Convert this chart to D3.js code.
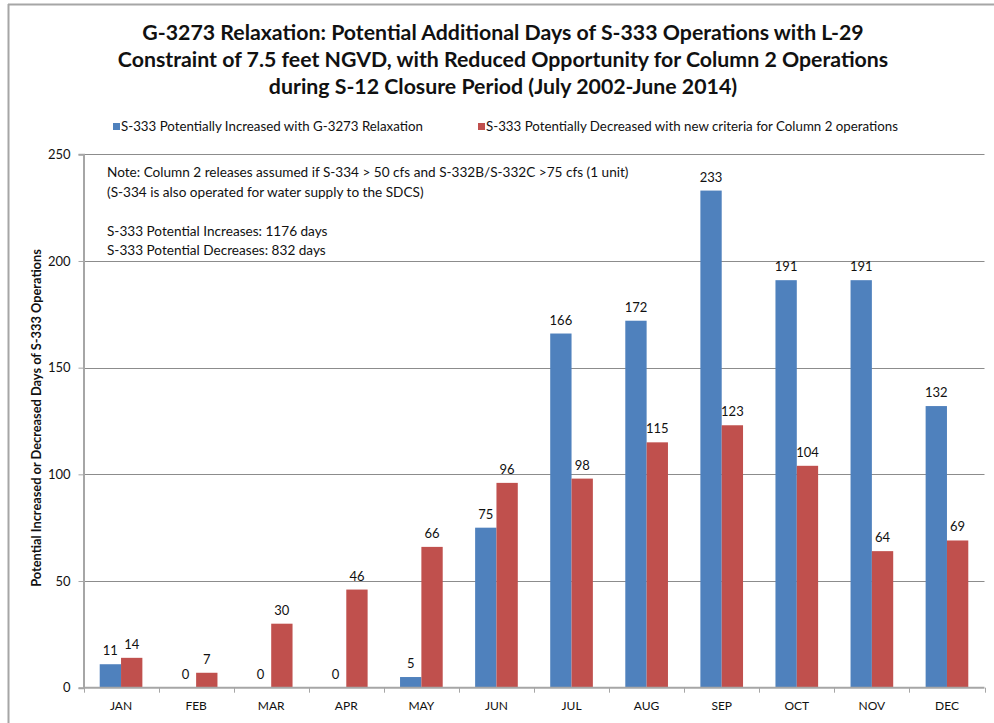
<!DOCTYPE html>
<html>
<head>
<meta charset="utf-8">
<script src="https://cdn.jsdelivr.net/npm/d3@7"></script>
<style>
  body { margin: 0; background: #fff; }
  svg text { font-family: Lato, "Open Sans", sans-serif; fill: #111; }
</style>
</head>
<body>
<div id="chart"></div>
<script>
// данные
const months = ["JAN", "FEB", "MAR", "APR", "MAY", "JUN", "JUL", "AUG", "SEP", "OCT", "NOV", "DEC"];
const increased = [11, 0, 0, 0, 5, 75, 166, 172, 233, 191, 191, 132];
const decreased = [14, 7, 30, 46, 66, 96, 98, 115, 123, 104, 64, 69];
const seriesNames = [
  "S-333 Potentially Increased with G-3273 Relaxation",
  "S-333 Potentially Decreased with new criteria for Column 2 operations"
];
const yTicks = [0, 50, 100, 150, 200, 250];
const titleLines = [
  "G-3273 Relaxation: Potential Additional Days of S-333 Operations with L-29",
  "Constraint of 7.5 feet NGVD, with Reduced Opportunity for Column 2 Operations",
  "during S-12 Closure Period (July 2002-June 2014)"
];
const noteLines = [
  "Note: Column 2 releases assumed if S-334 > 50 cfs and S-332B/S-332C >75 cfs (1 unit)",
  "(S-334 is also operated for water supply to the SDCS)",
  "",
  "S-333 Potential Increases: 1176 days",
  "S-333 Potential Decreases: 832 days"
];
const yTitle = "Potential Increased or Decreased Days of S-333 Operations";

const colors = ["#4F81BD", "#C0504D"];

const W = 994, H = 723;
const plot = { left: 83.5, right: 984.5, top: 154.3, bottom: 687.7 };

const svg = d3.select("#chart").append("svg")
  .attr("width", W)
  .attr("height", H);

// рамка диаграммы
svg.append("line").attr("x1", 8).attr("x2", W).attr("y1", 4.5).attr("y2", 4.5)
  .attr("stroke", "#a6a6a6").attr("stroke-width", 2);
svg.append("line").attr("x1", 8.5).attr("x2", 8.5).attr("y1", 4).attr("y2", H)
  .attr("stroke", "#a6a6a6").attr("stroke-width", 2);

// шкалы
const x0 = d3.scaleBand().domain(months).range([plot.left, plot.right]).padding(0);
const x1 = d3.scaleBand().domain([0, 1]).range([0, x0.bandwidth()])
  .paddingInner(0).paddingOuter(0.76);
const y = d3.scaleLinear().domain([0, 250]).range([plot.bottom, plot.top]);

// сетка
svg.append("g").selectAll("line").data(yTicks.filter(d => d > 0)).join("line")
  .attr("x1", plot.left).attr("x2", plot.right)
  .attr("y1", d => Math.round(y(d)) + 0.5).attr("y2", d => Math.round(y(d)) + 0.5)
  .attr("stroke", "#8c8c8c").attr("stroke-width", 1);

// ось Y
const yAxis = svg.append("g")
  .attr("transform", `translate(${plot.left},0)`)
  .call(d3.axisLeft(y).tickValues(yTicks).tickSize(5).tickPadding(8));
yAxis.select(".domain").attr("stroke", "#a6a6a6").attr("stroke-width", 2);
yAxis.selectAll(".tick line").attr("stroke", "#a6a6a6");
yAxis.selectAll(".tick text").style("font-size", "13px").attr("fill", "#111");

// столбцы
const groups = svg.append("g").selectAll("g").data(months).join("g")
  .attr("transform", d => `translate(${x0(d)},0)`);

const series = [increased, decreased];
groups.selectAll("rect")
  .data((m, i) => series.map((s, k) => ({ k, v: s[i] })))
  .join("rect")
  .attr("x", d => x1(d.k))
  .attr("width", x1.bandwidth())
  .attr("y", d => y(d.v))
  .attr("height", d => y(0) - y(d.v))
  .attr("fill", d => colors[d.k]);

groups.selectAll("text.val")
  .data((m, i) => series.map((s, k) => ({ k, v: s[i] })))
  .join("text")
  .attr("class", "val")
  .attr("x", d => x1(d.k) + x1.bandwidth() / 2)
  .attr("y", d => y(d.v) - 9)
  .attr("text-anchor", "middle")
  .style("font-size", "13px")
  .text(d => d.v);

// ось X
const xAxis = svg.append("g")
  .attr("transform", `translate(0,${plot.bottom})`)
  .call(d3.axisBottom(x0).tickSize(0).tickPadding(14));
xAxis.select(".domain").remove();
xAxis.selectAll(".tick text").style("font-size", "12px").attr("fill", "#111");
svg.append("line")
  .attr("x1", plot.left).attr("x2", plot.right)
  .attr("y1", plot.bottom).attr("y2", plot.bottom)
  .attr("stroke", "#a6a6a6").attr("stroke-width", 2);
svg.append("g").selectAll("line").data(months.concat(["end"])).join("line")
  .attr("x1", (d, i) => Math.round(plot.left + i * x0.step()) + 0.5)
  .attr("x2", (d, i) => Math.round(plot.left + i * x0.step()) + 0.5)
  .attr("y1", plot.bottom).attr("y2", plot.bottom + 5)
  .attr("stroke", "#a6a6a6");

// заголовок
svg.append("g").selectAll("text").data(titleLines).join("text")
  .attr("x", 503)
  .attr("y", (d, i) => 40 + i * 27)
  .attr("text-anchor", "middle")
  .style("font-size", "21.3px")
  .style("font-weight", "bold")
  .text(d => d);

// легенда
const legendX = [113, 478];
const legend = svg.append("g").selectAll("g").data(seriesNames).join("g")
  .attr("transform", (d, i) => `translate(${legendX[i]},127)`);
legend.append("rect").attr("x", 0).attr("y", -4).attr("width", 7).attr("height", 7)
  .attr("fill", (d, i) => colors[i]);
legend.append("text").attr("x", 8).attr("y", 4)
  .style("font-size", "13.3px")
  .text(d => d);

// примечание
svg.append("g").selectAll("text").data(noteLines).join("text")
  .attr("x", 107)
  .attr("y", (d, i) => 177 + i * 19.5)
  .style("font-size", "13.6px")
  .text(d => d);

// подпись оси Y
svg.append("text")
  .attr("transform", `translate(41,${(plot.top + plot.bottom) / 2 - 3}) rotate(-90)`)
  .attr("text-anchor", "middle")
  .style("font-size", "12.8px")
  .style("font-weight", "bold")
  .text(yTitle);
</script>
</body>
</html>
